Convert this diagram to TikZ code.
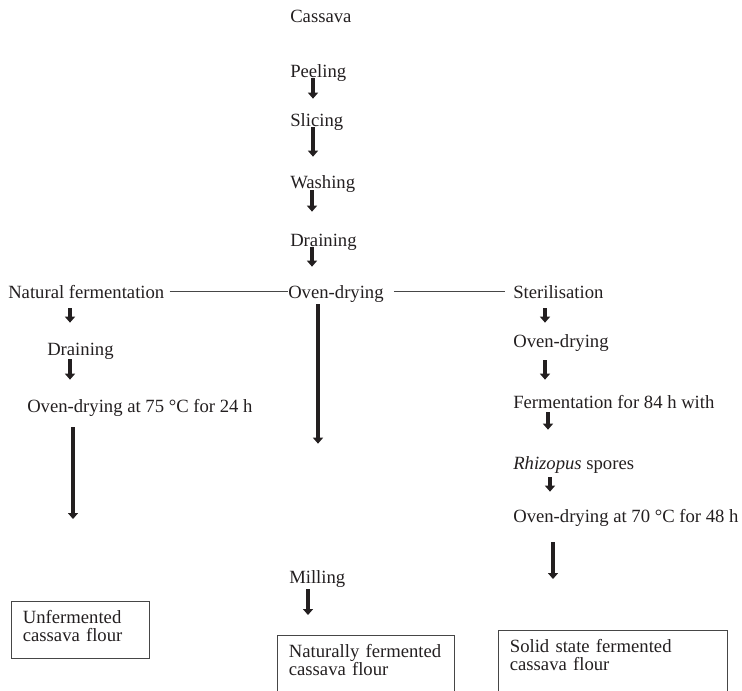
\documentclass[tikz,border=0pt]{standalone}
\usepackage{fontspec}
\setmainfont{Liberation Serif}
\usepackage{tikz}
\usetikzlibrary{arrows.meta,calc}
\definecolor{flowink}{RGB}{35,31,32}
\definecolor{flowgrey}{RGB}{70,70,70}
\newcommand{\flowfont}{\fontsize{14pt}{13.5pt}\selectfont}
\tikzset{
  steptext/.style={anchor=base west, inner sep=0pt, text height=9.8pt, text depth=0pt, text=flowink},
  flourbox/.style={draw=flowgrey, line width=0.8pt, anchor=north west, align=left,
    inner xsep=8.5pt, inner ysep=6.9pt, text height=9.6pt, text=flowink},
  flowarr/.style={-{Triangle[length=4.5pt,width=7.5pt]}, line width=2.7pt, draw=flowink},
  longarr/.style={flowarr, line width=2.7pt},
  joinline/.style={draw=flowgrey, line width=0.8pt}
}
\begin{document}
\begin{tikzpicture}[x=0.75pt, y=-0.75pt, font=\flowfont]
\useasboundingbox (0,0) rectangle (742,690);
\clip (0,0) rectangle (742,690);
\node[steptext] (cassava) at (290,22) {Cassava};
\node[steptext] (peel) at (290,77) {Peeling};
\node[steptext] (slice) at (290,126) {Slicing};
\node[steptext] (wash) at (290,188) {Washing};
\node[steptext] (drain) at (290,246) {Draining};
\node[steptext] (natferm) at (8,298) {Natural fermentation};
\node[steptext] (ovendry) at (288,298) {Oven-drying};
\node[steptext] (steril) at (513,298) {Sterilisation};
\node[steptext] (ldrain) at (47,355) {Draining};
\node[steptext] (lovendry) at (27,412) {Oven-drying at 75 °C for 24 h};
\node[steptext] (rovendry) at (513,347) {Oven-drying};
\node[steptext] (rferm) at (513,408) {Fermentation for 84 h with};
\node[steptext] (rhizo) at (513,469) {\textit{Rhizopus} spores};
\node[steptext] (rovendryb) at (513,522) {Oven-drying at 70 °C for 48 h};
\node[steptext] (mill) at (289,583) {Milling};
\node[flourbox, text width=86.5pt, text depth=19.35pt] (unfbox) at (11,601) {Unfermented\\cassava flour};
\node[flourbox, text width=115.75pt, text depth=40pt] (natbox) at (277,635) {Naturally fermented\\cassava flour};
\node[flourbox, text width=154.75pt, text depth=40pt] (solidbox) at (498,630) {Solid state fermented\\cassava flour};
\draw[flowarr] ($(peel.south west)+(23,1)$) -- ($(slice.north west)+(23,-14)$);
\draw[flowarr] ($(slice.south west)+(23,1)$) -- ($(wash.north west)+(23,-18)$);
\draw[flowarr] ($(wash.south west)+(22,2)$) -- ($(drain.north west)+(22,-21)$);
\draw[flowarr] ($(drain.south west)+(22,1)$) -- ($(ovendry.north west)+(24,-18)$);
\draw[joinline, shorten <=3.75pt] (natferm.east) -- (ovendry.west);
\draw[joinline, shorten <=7.5pt, shorten >=6pt] (ovendry.east) -- (steril.west);
\draw[flowarr] ($(natferm.south west)+(62,10)$) -- ($(ldrain.north west)+(23,-19)$);
\draw[flowarr] ($(ldrain.south west)+(23,4)$) -- ($(lovendry.north west)+(43,-19)$);
\draw[longarr] ($(lovendry.south west)+(46,15)$) -- ($(unfbox.north west)+(62,-82)$);
\draw[longarr] ($(ovendry.south west)+(30,6)$) -- ($(mill.north west)+(29,-126)$);
\draw[flowarr] ($(mill.south west)+(19,6)$) -- ($(natbox.north west)+(31,-20)$);
\draw[flowarr] ($(steril.south west)+(32,10)$) -- ($(rovendry.north west)+(32,-11)$);
\draw[flowarr] ($(rovendry.south west)+(32,13)$) -- ($(rferm.north west)+(32,-15)$);
\draw[flowarr] ($(rferm.south west)+(35,4)$) -- ($(rhizo.north west)+(35,-26)$);
\draw[flowarr] ($(rhizo.south west)+(37,8)$) -- ($(rovendryb.north west)+(37,-17)$);
\draw[longarr] ($(rovendryb.south west)+(40,20)$) -- ($(solidbox.north west)+(55,-51)$);
\end{tikzpicture}
\end{document}
